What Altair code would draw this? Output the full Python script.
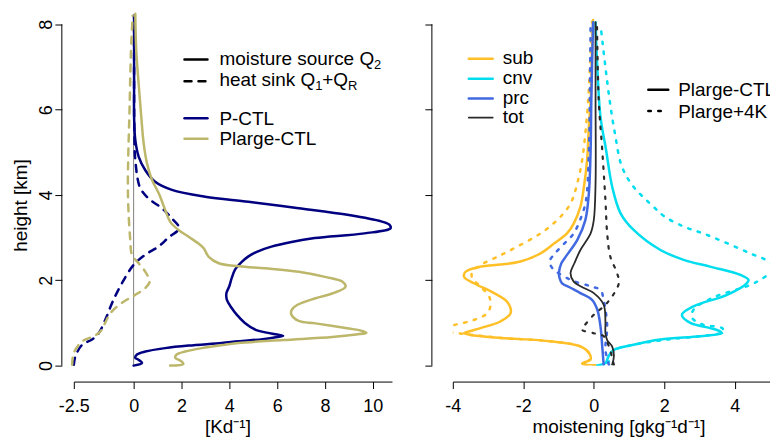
import altair as alt
import pandas as pd

FONT = "Liberation Sans"

# ---------------- left panel: Q2 / Q1+QR profiles [K d-1] ----------------
# P-CTL, moisture source Q2 (solid)
H_P_Q2 = [0.00, 0.06, 0.14, 0.18, 0.26, 0.33, 0.41, 0.47, 0.53, 0.57, 0.62, 0.67, 0.70, 0.73, 0.78, 0.84,
          1.00, 1.20, 1.35, 1.54, 1.70, 1.86, 2.05, 2.25, 2.42, 2.56, 2.68, 2.79, 2.90, 2.99, 3.10, 3.22,
          3.30, 3.38, 3.53, 3.69, 3.84, 3.96, 4.12, 4.31, 4.58, 4.90, 5.29, 5.83, 6.50, 7.30, 8.20]
X_P_Q2 = [0.00, 0.35, 0.20, 0.07, 0.14, 0.49, 1.32, 2.30, 3.68, 4.38, 5.40, 6.00, 6.25, 6.00, 5.50, 5.10,
          4.65, 4.30, 4.10, 3.90, 3.88, 4.00, 4.10, 4.24, 4.50, 4.80, 5.20, 5.76, 6.60, 7.57, 9.65, 10.74,
          10.70, 10.35, 9.00, 6.90, 4.80, 2.99, 1.60, 0.90, 0.49, 0.21, 0.07, 0.02, 0.02, 0.02, 0.02]
# Plarge-CTL, moisture source Q2 (solid)
H_L_Q2 = [0.00, 0.04, 0.10, 0.14, 0.18, 0.26, 0.33, 0.41, 0.49, 0.53, 0.60, 0.67, 0.73, 0.77, 0.82,
          0.87, 0.99, 1.05, 1.19, 1.30, 1.42, 1.58, 1.69, 1.85, 1.97, 2.08, 2.20, 2.28, 2.33, 2.40,
          2.55, 2.75, 2.86, 3.02, 3.18, 3.37, 3.65, 4.04, 4.35, 4.74, 5.21, 5.83, 6.61, 7.39, 8.25]
X_L_Q2 = [1.53, 2.08, 2.00, 1.87, 1.74, 1.80, 2.15, 2.85, 3.82, 4.38, 6.25, 8.30, 9.30, 9.73, 9.50,
          9.00, 7.60, 6.90, 6.60, 6.60, 6.83, 7.60, 8.30, 8.86, 8.72, 8.00, 6.90, 5.50, 4.40, 3.56,
          3.14, 2.93, 2.72, 2.30, 1.88, 1.53, 1.32, 1.05, 0.77, 0.56, 0.42, 0.32, 0.21, 0.11, 0.07]
# P-CTL, heat sink Q1+QR (dashed)
H_P_Q1 = [0.02, 0.22, 0.49, 0.61, 0.76, 1.08, 1.47, 1.93, 2.36, 2.60, 2.79, 3.00, 3.22, 3.45, 3.69,
          3.92, 4.16, 4.40, 4.66, 4.97, 5.50, 6.50, 7.50, 8.20]
X_P_Q1 = [-2.50, -2.43, -2.15, -1.74, -1.46, -1.18, -0.90, -0.49, 0.00, 0.49, 1.04, 1.45, 1.90, 1.60, 1.18,
          0.62, 0.28, 0.16, 0.10, 0.05, 0.03, 0.02, 0.02, 0.02]
# Plarge-CTL, heat sink Q1+QR (dashed)
H_L_Q1 = [0.02, 0.30, 0.57, 0.69, 0.80, 1.23, 1.47, 1.66, 1.82, 1.97, 2.20, 2.40, 2.60, 2.95, 3.57,
          4.19, 5.00, 6.00, 7.00, 7.50, 8.20]
X_L_Q1 = [-2.57, -2.50, -2.15, -1.67, -1.39, -0.97, -0.49, 0.07, 0.49, 0.67, 0.49, 0.21, -0.07, -0.14, -0.21,
          -0.24, -0.22, -0.17, -0.13, -0.10, -0.04]

# ---------------- right panel: moistening [g kg-1 d-1] ----------------
H_SUB_C = [0.00, 0.05, 0.15, 0.30, 0.45, 0.57, 0.65, 0.72, 0.76, 0.80, 0.88, 1.04, 1.23, 1.50, 1.70, 1.93,
           2.08, 2.20, 2.32, 2.37, 2.44, 2.63, 2.86, 3.10, 3.33, 3.72, 4.19, 4.82, 5.60, 6.22, 7.39, 8.10]
X_SUB_C = [0.05, -0.33, -0.09, -0.14, -0.38, -1.23, -2.64, -3.50, -3.68, -3.55, -3.21, -2.64, -2.36, -2.46,
           -2.83, -3.40, -3.68, -3.64, -3.21, -2.64, -2.08, -1.51, -1.13, -0.76, -0.57, -0.38, -0.28, -0.19,
           -0.14, -0.09, -0.05, -0.02]
H_SUB_W = [0.00, 0.05, 0.15, 0.30, 0.45, 0.57, 0.65, 0.74, 0.80, 0.84, 0.95, 1.07, 1.23, 1.42, 1.62, 1.85,
           2.05, 2.20, 2.36, 2.55, 2.79, 3.10, 3.41, 3.80, 4.27, 4.82, 5.44, 6.22, 7.39, 8.06]
X_SUB_W = [0.05, -0.33, -0.09, -0.14, -0.38, -1.23, -2.64, -3.68, -4.20, -4.39, -3.97, -3.40, -3.02, -2.93,
           -2.97, -3.21, -3.45, -3.45, -3.21, -2.74, -2.17, -1.51, -1.04, -0.66, -0.47, -0.33, -0.24, -0.16,
           -0.09, -0.05]
H_CNV_C = [0.00, 0.06, 0.22, 0.37, 0.49, 0.61, 0.69, 0.76, 0.80, 0.88, 1.00, 1.19, 1.39, 1.66, 1.93, 2.01,
           2.13, 2.32, 2.48, 2.71, 3.18, 3.57, 4.20, 5.05, 5.83, 7.00, 8.05]
X_CNV_C = [0.10, 0.33, 0.42, 0.57, 1.13, 1.89, 3.02, 3.64, 3.59, 3.30, 2.74, 2.50, 2.83, 3.78, 4.34, 4.39,
           4.15, 3.30, 2.55, 1.89, 1.13, 0.76, 0.52, 0.35, 0.19, 0.10, 0.05]
H_CNV_W = [0.00, 0.10, 0.25, 0.37, 0.49, 0.61, 0.69, 0.76, 0.80, 0.88, 0.96, 1.12, 1.31, 1.60, 1.89, 2.01,
           2.17, 2.30, 2.45, 2.63, 2.87, 3.10, 3.26, 3.50, 3.72, 4.19, 4.66, 5.44, 6.22, 7.00, 8.00]
X_CNV_W = [0.10, 0.43, 0.45, 0.60, 1.13, 2.08, 3.02, 3.60, 3.68, 3.64, 3.10, 2.79, 2.83, 3.40, 4.44, 4.72,
           5.00, 5.15, 4.95, 4.44, 3.78, 3.10, 2.55, 2.00, 1.70, 1.13, 0.80, 0.60, 0.45, 0.33, 0.19]
H_PRC_C = [0.02, 0.45, 0.92, 1.31, 1.54, 1.70, 1.82, 1.93, 2.05, 2.17, 2.40, 2.55, 2.71, 2.94, 3.41, 4.04,
           5.05, 6.22, 8.05]
X_PRC_C = [0.28, 0.24, 0.19, 0.10, -0.05, -0.38, -0.65, -0.90, -0.97, -0.99, -0.92, -0.80, -0.66, -0.47,
           -0.24, -0.14, -0.09, -0.07, -0.02]
H_PRC_W = [0.02, 0.37, 0.92, 1.54, 1.77, 1.86, 2.01, 2.29, 2.45, 2.63, 2.85, 3.10, 3.50, 3.88, 5.00, 6.50, 8.05]
X_PRC_W = [0.43, 0.33, 0.38, 0.28, 0.19, -0.09, -0.66, -1.18, -1.25, -1.10, -0.85, -0.57, -0.35, -0.22,
           -0.14, -0.11, -0.09]
H_TOT_C = [0.02, 0.22, 0.45, 0.60, 0.76, 1.04, 1.43, 1.70, 1.85, 1.97, 2.17, 2.40, 2.71, 3.10, 3.41, 4.27,
           6.22, 8.05]
X_TOT_C = [0.52, 0.57, 0.52, 0.38, 0.33, 0.33, 0.28, 0.00, -0.35, -0.57, -0.66, -0.55, -0.38, -0.09, 0.00,
           0.05, 0.05, 0.05]
H_TOT_W = [0.02, 0.45, 0.69, 0.76, 0.84, 0.92, 1.19, 1.47, 1.93, 2.17, 2.55, 3.10, 3.88, 5.05, 6.22, 8.05]
X_TOT_W = [0.57, 0.43, 0.28, 0.00, -0.33, -0.28, 0.00, 0.38, 0.71, 0.66, 0.47, 0.38, 0.33, 0.24, 0.14, 0.09]

# tick values
LEFT_XTICKS = [-2.5, 0, 2, 4, 6, 8, 10]
RIGHT_XTICKS = [-4, -2, 0, 2, 4]
Y_TICKS = [0, 2, 4, 6, 8]

NAVY = "#000080"
KHAKI = "#BDB76B"
GOLD = "#FFBF27"
CYAN = "#00DDEE"
ROYAL = "#4169E1"
TOTC = "#2A2A2A"
DASH = [7, 7]
DOT = [2.5, 7.5]

ONE = pd.DataFrame({"k": [0]})


def prof(h, x):
    return pd.DataFrame({"h": h, "x": x, "i": list(range(len(h)))})


YSCALE = alt.Scale(domain=[0, 8.3], nice=False, zero=False)
XL_SCALE = alt.Scale(domain=[-2.5, 10.8], nice=False, zero=False)
XR_SCALE = alt.Scale(domain=[-4, 5.0], nice=False, zero=False)

MINUS_FIX = "replace(datum.label, '\u2212', '-')"


def x_axis(values, title, tx):
    return alt.Axis(values=values, title=title, format=".2~f", offset=16, grid=False, domain=True,
                    domainColor="black", domainWidth=1, ticks=True, tickColor="black", tickSize=7,
                    tickWidth=1, labelFont=FONT, labelFontSize=18, labelColor="black", labelPadding=23,
                    labelBaseline="alphabetic", labelAlign="center", labelFlush=False, labelOverlap=False,
                    labelExpr=MINUS_FIX, titleFont=FONT, titleFontSize=19, titleFontWeight="normal",
                    titleColor="black", titleX=tx, titleY=51, titleAlign="center",
                    titleBaseline="alphabetic")


XAX_L = x_axis(LEFT_XTICKS, "[Kd\u207b\u00b9]", 154)
XAX_R = x_axis(RIGHT_XTICKS, "moistening [gkg\u207b\u00b9d\u207b\u00b9]", 166)

YAX_L = alt.Axis(values=Y_TICKS, title="height [km]", offset=12, grid=False, domain=False, ticks=True,
                 tickColor="black", tickSize=7, tickWidth=1, labelFont=FONT, labelFontSize=18,
                 labelColor="black", labelAngle=270, labelAlign="center", labelBaseline="alphabetic",
                 labelPadding=3, labelFlush=False, labelOverlap=False, titleFont=FONT, titleFontSize=19,
                 titleFontWeight="normal", titleColor="black", titleAngle=270, titleX=-35, titleY=194,
                 titleAlign="center", titleBaseline="alphabetic")
YAX_R = alt.Axis(values=Y_TICKS, title="", offset=21, grid=False, domain=False, ticks=True,
                 tickColor="black", tickSize=7, tickWidth=1, labels=False)


def line(h, x, xscale, xax, yax, color, width=2.5, dash=None, clip=False):
    mk = dict(color=color, strokeWidth=width, strokeCap="round", strokeJoin="round",
              interpolate="catmull-rom", clip=clip)
    if dash:
        mk["strokeDash"] = dash
    return alt.Chart(prof(h, x)).mark_line(**mk).encode(
        x=alt.X("x:Q", scale=xscale, axis=xax),
        y=alt.Y("h:Q", scale=YSCALE, axis=yax),
        order=alt.Order("i:Q"),
    )


def yline(off, yax):
    return alt.Chart(pd.DataFrame({"h": [0.0], "h2": [8.0]})).mark_rule(color="black", strokeWidth=1).encode(
        x=alt.value(-off), y=alt.Y("h:Q", scale=YSCALE, axis=yax), y2="h2:Q")


def ltext(txt, x, y, size=19, clip=False):
    return alt.Chart(ONE).mark_text(text=txt, align="left", baseline="alphabetic", font=FONT,
                                    fontSize=size, color="black", clip=clip).encode(
        x=alt.value(x), y=alt.value(y))


def lrule(x1, x2, y, color, width=2.5, dash=None):
    mk = dict(color=color, strokeWidth=width, strokeCap="round")
    if dash:
        mk["strokeDash"] = dash
    return alt.Chart(ONE).mark_rule(**mk).encode(x=alt.value(x1), x2=alt.value(x2), y=alt.value(y))


zero_line = alt.Chart(pd.DataFrame({"x": [0.0], "h": [0.0], "h2": [8.2]})).mark_rule(
    color="#808080", strokeWidth=1).encode(
    x=alt.X("x:Q", scale=XL_SCALE, axis=XAX_L), y=alt.Y("h:Q", scale=YSCALE, axis=YAX_L), y2="h2:Q")

left = alt.layer(
    zero_line,
    yline(12, YAX_L),
    line(H_P_Q2, X_P_Q2, XL_SCALE, XAX_L, YAX_L, NAVY),
    line(H_P_Q1, X_P_Q1, XL_SCALE, XAX_L, YAX_L, NAVY, dash=DASH),
    line(H_L_Q2, X_L_Q2, XL_SCALE, XAX_L, YAX_L, KHAKI),
    line(H_L_Q1, X_L_Q1, XL_SCALE, XAX_L, YAX_L, KHAKI, dash=DASH),
    # legend
    lrule(111, 134, 48, "black"),
    ltext("moisture source Q", 146, 54),
    ltext("2", 301, 58, size=13),
    lrule(111, 134, 70, "black", dash=DASH),
    ltext("heat sink Q", 146, 75),
    ltext("1", 242, 79, size=13),
    ltext("+Q", 249, 75),
    ltext("R", 275, 79, size=13),
    lrule(111, 134, 107, NAVY),
    ltext("P-CTL", 146, 114),
    lrule(111, 134, 127.5, KHAKI),
    ltext("Plarge-CTL", 146, 134),
).properties(width=319, height=355)

right = alt.layer(
    yline(21, YAX_R),
    line(H_SUB_C, X_SUB_C, XR_SCALE, XAX_R, YAX_R, GOLD, clip=True),
    line(H_SUB_W, X_SUB_W, XR_SCALE, XAX_R, YAX_R, GOLD, dash=DOT, clip=True),
    line(H_CNV_C, X_CNV_C, XR_SCALE, XAX_R, YAX_R, CYAN, clip=True),
    line(H_CNV_W, X_CNV_W, XR_SCALE, XAX_R, YAX_R, CYAN, dash=DOT, clip=True),
    line(H_PRC_C, X_PRC_C, XR_SCALE, XAX_R, YAX_R, ROYAL, clip=True),
    line(H_PRC_W, X_PRC_W, XR_SCALE, XAX_R, YAX_R, ROYAL, dash=DOT, clip=True),
    line(H_TOT_C, X_TOT_C, XR_SCALE, XAX_R, YAX_R, TOTC, width=1.8, clip=True),
    line(H_TOT_W, X_TOT_W, XR_SCALE, XAX_R, YAX_R, TOTC, width=2.2, dash=DOT, clip=True),
    # legend: components
    lrule(16, 40, 47.3, GOLD),
    ltext("sub", 50, 52.3),
    lrule(16, 40, 67.3, CYAN),
    ltext("cnv", 50, 72.3),
    lrule(16, 40, 87.3, ROYAL),
    ltext("prc", 50, 92.3),
    lrule(16, 40, 106.3, TOTC, width=1.8),
    ltext("tot", 50, 111.3),
    # legend: experiments
    lrule(196, 216, 78.3, "black"),
    ltext("Plarge-CTL", 226, 85, clip=True),
    lrule(196, 216, 99.7, "black", dash=DOT),
    ltext("Plarge+4K", 226, 106.3, clip=True),
).properties(width=318, height=355)

chart = alt.hconcat(left, right, spacing=31).properties(
    padding={"left": 12, "top": 11, "right": 0, "bottom": 0},
    background="white",
).configure_view(strokeWidth=0)

chart.save("out.html", embed_options={"renderer": "svg", "actions": False})
